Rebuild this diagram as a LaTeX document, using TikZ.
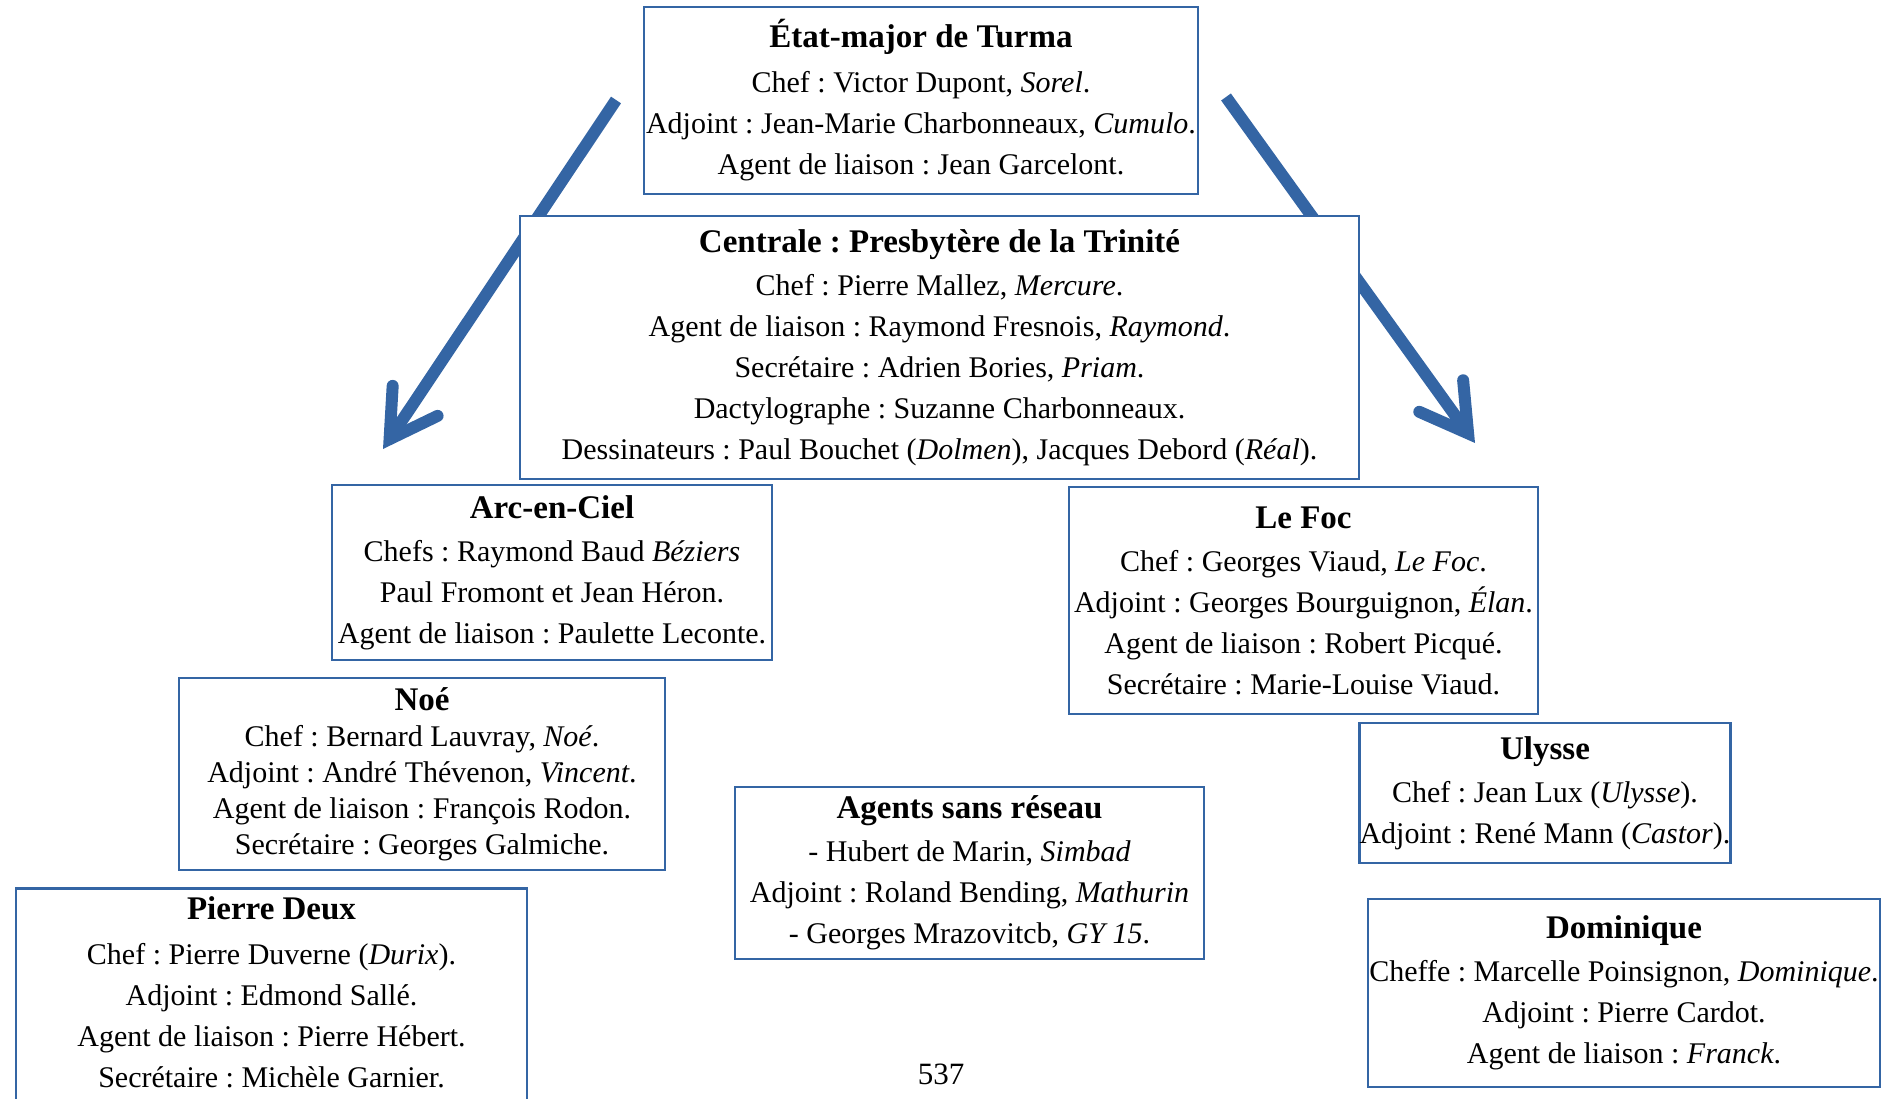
\documentclass[tikz,border=0pt]{standalone}
\usepackage{fontspec}
\setmainfont{Liberation Serif}
\usetikzlibrary{arrows.meta}
\definecolor{turmablue}{HTML}{3465A4}
\newcommand{\cellhead}[1]{{\fontsize{33}{41}\selectfont\bfseries #1}}
\frenchspacing

\begin{document}
\begin{tikzpicture}[x=1pt,y=-1pt,
		cell/.style={draw=turmablue,line width=2.5pt,fill=white,align=center,inner xsep=0pt,inner ysep=0pt,font=\fontsize{30}{41}\selectfont},
		branch/.style={draw=turmablue,line width=12pt,-{Straight Barb[length=46pt,width=54pt,line cap=round,line join=miter]}}]
		\useasboundingbox (0,0) rectangle (1892,1099);
		
		\coordinate (lfrom) at (616,100);
		\coordinate (lto) at (383,449);
		\coordinate (rfrom) at (1226,97);
		\coordinate (rto) at (1475,443);
		\draw[branch] (lfrom) -- (lto);
		\draw[branch] (rfrom) -- (rto);
		
		\node[cell,minimum width=554pt,minimum height=187pt] (etat) at (921,100.5) {\cellhead{État-major de Turma}\\[4pt]
			Chef : Victor Dupont, \textit{Sorel}.\\
			Adjoint : Jean-Marie Charbonneaux, \textit{Cumulo}.\\
			Agent de liaison : Jean Garcelont.};
		\node[cell,minimum width=839pt,minimum height=263pt] (centrale) at (939.5,347.5) {\cellhead{Centrale : Presbytère de la Trinité}\\[2pt]
			Chef : Pierre Mallez, \textit{Mercure}.\\
			Agent de liaison : Raymond Fresnois, \textit{Raymond}.\\
			Secrétaire : Adrien Bories, \textit{Priam}.\\
			Dactylographe : Suzanne Charbonneaux.\\
			Dessinateurs : Paul Bouchet (\textit{Dolmen}), Jacques Debord (\textit{Réal}).};
		\node[cell,minimum width=440pt,minimum height=175pt] (arc) at (552,572.5) {\cellhead{Arc-en-Ciel}\\[2pt]
			Chefs : Raymond Baud \textit{Béziers}\\
			Paul Fromont et Jean Héron.\\
			Agent de liaison : Paulette Leconte.};
		\node[cell,minimum width=469pt,minimum height=227pt] (foc) at (1303.5,600.5) {\cellhead{Le Foc}\\[2pt]
			Chef : Georges Viaud, \textit{Le Foc}.\\
			Adjoint : Georges Bourguignon, \textit{Élan}.\\
			Agent de liaison : Robert Picqué.\\
			Secrétaire : Marie-Louise Viaud.};
		\node[cell,font=\fontsize{30}{36}\selectfont,minimum width=486pt,minimum height=192pt] (noe) at (422,774) {\cellhead{Noé}\\
			Chef : Bernard Lauvray, \textit{Noé}.\\
			Adjoint : André Thévenon, \textit{Vincent}.\\
			Agent de liaison : François Rodon.\\
			Secrétaire : Georges Galmiche.};
		\node[cell,minimum width=469pt,minimum height=172pt] (sansreseau) at (969.5,873) {\cellhead{Agents sans réseau}\\[2pt]
			- Hubert de Marin, \textit{Simbad}\\
			Adjoint : Roland Bending, \textit{Mathurin}\\
			- Georges Mrazovitcb, \textit{GY 15}.};
		\node[cell,minimum width=368pt,minimum height=140pt] (ulysse) at (1545,793) {\cellhead{Ulysse}\\[2pt]
			Chef : Jean Lux (\textit{Ulysse}).\\
			Adjoint : René Mann (\textit{Castor}).};
		\node[cell,anchor=north,inner ysep=8pt,minimum width=511pt] (pierre) at (271.5,887) {\cellhead{Pierre Deux}\\[4pt]
			Chef : Pierre Duverne (\textit{Durix}).\\
			Adjoint : Edmond Sallé.\\
			Agent de liaison : Pierre Hébert.\\
			Secrétaire : Michèle Garnier.\rule[-30pt]{0pt}{30pt}};
		\node[cell,minimum width=512pt,minimum height=188pt] (dominique) at (1624,993) {\cellhead{Dominique}\\[2pt]
			Cheffe : Marcelle Poinsignon, \textit{Dominique}.\\
			Adjoint : Pierre Cardot.\\
			Agent de liaison : \textit{Franck}.};
		
		\node[font=\fontsize{31}{36}\selectfont] (folio) at (941,1074) {537};
		\end{tikzpicture}
\end{document}
